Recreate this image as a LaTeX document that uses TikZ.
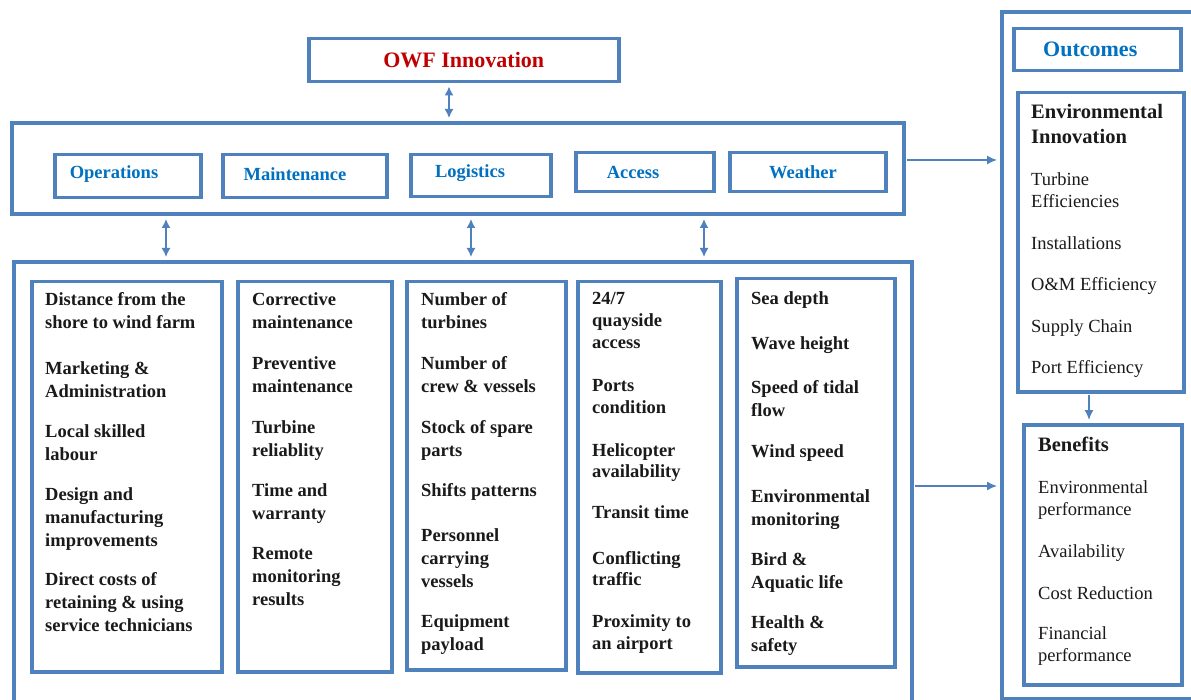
\documentclass[tikz,border=0pt]{standalone}
\usepackage{fontspec}
\setmainfont{Liberation Serif}
\usetikzlibrary{arrows.meta}
\definecolor{bx}{RGB}{79,129,189}
\definecolor{hd}{RGB}{0,112,192}
\definecolor{rd}{RGB}{192,0,0}
\definecolor{tx}{RGB}{26,26,26}
\begin{document}
\begin{tikzpicture}[x=1pt,y=-1pt,
 frame/.style={draw=bx, line width=4pt, inner sep=0pt, anchor=north west},
 box/.style={draw=bx, line width=3.5pt, inner sep=0pt, anchor=north west},
 hdrtxt/.style={font=\fontsize{18.5}{22}\selectfont\bfseries, text=hd, inner sep=0pt},
 item/.style={font=\fontsize{18.5}{23}\selectfont\bfseries, text=tx, align=left, anchor=north west, inner sep=0pt},
 outb/.style={font=\fontsize{20.5}{25}\selectfont\bfseries, text=tx, align=left, anchor=north west, inner sep=0pt},
 outn/.style={font=\fontsize{18.5}{22.5}\selectfont, text=tx, align=left, anchor=north west, inner sep=0pt},
 dbl/.style={{Latex[length=9pt,width=9pt]}-{Latex[length=9pt,width=9pt]}, draw=bx, line width=1.5pt, shorten <=3pt, shorten >=3pt},
 one/.style={-{Latex[length=10pt,width=9pt]}, draw=bx, line width=1.5pt, shorten <=1pt, shorten >=3pt}
]
\useasboundingbox (0,0) rectangle (1191,700);
\fill[white] (0,0) rectangle (1191,700);

% top
\node[box, minimum width=310, minimum height=43, font=\fontsize{22}{26}\selectfont\bfseries, text=rd] (owf) at (307,37) {OWF Innovation};

% upper frame
\node[frame, minimum width=892, minimum height=91] (upper) at (10,121) {};
\node[box, minimum width=146, minimum height=43] (ops) at (53,153) {};
\node[box, minimum width=164, minimum height=43] (mnt) at (221,153) {};
\node[box, minimum width=140, minimum height=42] (log) at (409,153) {};
\node[box, minimum width=138, minimum height=39] (acc) at (574,151) {};
\node[box, minimum width=156, minimum height=39] (wea) at (728,151) {};
\node[hdrtxt] (opsT) at (114,174) {Operations};
\node[hdrtxt] (mntT) at (295,174) {Maintenance};
\node[hdrtxt] (logT) at (470,173) {Logistics};
\node[hdrtxt] (accT) at (633,172) {Access};
\node[hdrtxt] (weaT) at (803,172) {Weather};

% lower frame
\node[frame, minimum width=898, minimum height=440] (lower) at (12,260) {};
\node[box, minimum width=190, minimum height=390] (c1) at (30,280) {};
\node[box, minimum width=154, minimum height=390] (c2) at (236,280) {};
\node[box, minimum width=159, minimum height=388] (c3) at (405,280) {};
\node[box, minimum width=143, minimum height=391] (c4) at (576,280) {};
\node[box, minimum width=158, minimum height=388] (c5) at (735,277) {};

% column 1
\node[item] (i11) at (45,292) {Distance from the\\shore to wind farm};
\node[item] (i12) at (45,361) {Marketing \&\\Administration};
\node[item] (i13) at (45,424) {Local skilled\\labour};
\node[item] (i14) at (45,487) {Design and\\manufacturing\\improvements};
\node[item] (i15) at (45,572) {Direct costs of\\retaining \& using\\service technicians};
% column 2
\node[item] (i21) at (252,292) {Corrective\\maintenance};
\node[item] (i22) at (252,356) {Preventive\\maintenance};
\node[item] (i23) at (252,420) {Turbine\\reliablity};
\node[item] (i24) at (252,483) {Time and\\warranty};
\node[item] (i25) at (252,547) {Remote\\monitoring\\results};
% column 3
\node[item] (i31) at (421,292) {Number of\\turbines};
\node[item] (i32) at (421,356) {Number of\\crew \& vessels};
\node[item] (i33) at (421,420) {Stock of spare\\parts};
\node[item] (i34) at (421,483) {Shifts patterns};
\node[item] (i35) at (421,528) {Personnel\\carrying\\vessels};
\node[item] (i36) at (421,614) {Equipment\\payload};
% column 4
\node[item, font=\fontsize{18.5}{22}\selectfont\bfseries] (i41) at (592,292) {24/7\\quayside\\access};
\node[item, font=\fontsize{18.5}{22}\selectfont\bfseries] (i42) at (592,379) {Ports\\condition};
\node[item, font=\fontsize{18.5}{21.5}\selectfont\bfseries] (i43) at (592,443) {Helicopter\\availability};
\node[item] (i44) at (592,505) {Transit time};
\node[item, font=\fontsize{18.5}{21.5}\selectfont\bfseries] (i45) at (592,551) {Conflicting\\traffic};
\node[item, font=\fontsize{18.5}{22}\selectfont\bfseries] (i46) at (592,614) {Proximity to\\an airport};
% column 5
\node[item] (i51) at (751,291) {Sea depth};
\node[item] (i52) at (751,336) {Wave height};
\node[item] (i53) at (751,380) {Speed of tidal\\flow};
\node[item] (i54) at (751,444) {Wind speed};
\node[item] (i55) at (751,489) {Environmental\\monitoring};
\node[item] (i56) at (751,552) {Bird \&\\Aquatic life};
\node[item] (i57) at (751,615) {Health \&\\safety};

% outcomes
\node[frame, minimum width=200, minimum height=687] (outc) at (1000,10) {};
\node[box, minimum width=167, minimum height=42, font=\fontsize{22}{26}\selectfont\bfseries, text=hd] (outT) at (1012,27) {\hspace*{-14pt}Outcomes};
\node[box, minimum width=166, minimum height=299] (env) at (1016,91) {};
\node[outb] (envT) at (1031,104) {Environmental\\Innovation};
\node[outn] (e1) at (1031,172) {Turbine\\Efficiencies};
\node[outn] (e2) at (1031,236) {Installations};
\node[outn] (e3) at (1031,277) {O\&M Efficiency};
\node[outn] (e4) at (1031,319) {Supply Chain};
\node[outn] (e5) at (1031,360) {Port Efficiency};
\node[box, minimum width=158, minimum height=260] (ben) at (1022,423) {};
\node[outb] (benT) at (1038,437) {Benefits};
\node[outn] (b1) at (1038,480) {Environmental\\performance};
\node[outn] (b2) at (1038,544) {Availability};
\node[outn] (b3) at (1038,586) {Cost Reduction};
\node[outn] (b4) at (1038,626) {Financial\\performance};

% connectors
\coordinate (xa) at (449,0);
\coordinate (xb) at (166,0);
\coordinate (xc) at (471,0);
\coordinate (xd) at (704,0);
\coordinate (xe) at (1089,0);
\coordinate (ya) at (0,160);
\coordinate (yb) at (0,486);
\draw[dbl] (owf.south -| xa) -- (upper.north -| xa);
\draw[dbl] (upper.south -| xb) -- (lower.north -| xb);
\draw[dbl] (upper.south -| xc) -- (lower.north -| xc);
\draw[dbl] (upper.south -| xd) -- (lower.north -| xd);
\draw[one] (upper.east |- ya) -- (outc.west |- ya);
\draw[one] (lower.east |- yb) -- (outc.west |- yb);
\draw[one] (env.south -| xe) -- (ben.north -| xe);
\end{tikzpicture}
\end{document}
